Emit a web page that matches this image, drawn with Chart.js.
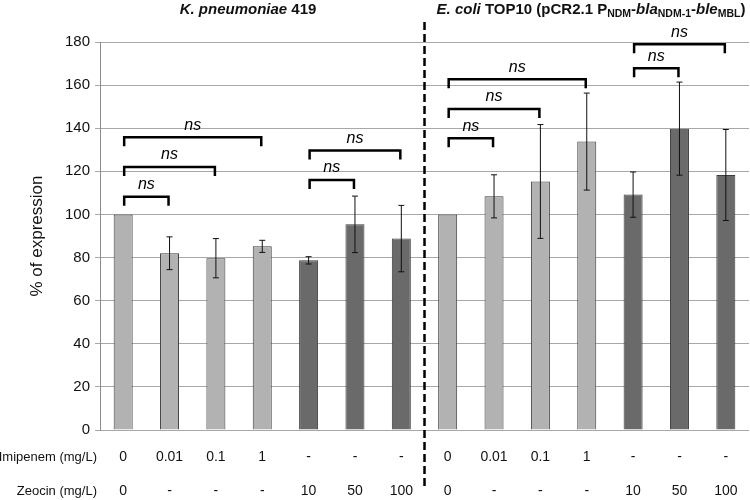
<!DOCTYPE html>
<html>
<head>
<meta charset="utf-8">
<script src="https://cdn.jsdelivr.net/npm/chart.js@4.4.0/dist/chart.umd.min.js"></script>
<style>
  body { margin: 0; background: #fff; }
  #wrap { width: 750px; height: 500px; }
</style>
</head>
<body>
<div id="wrap"><canvas id="myChart" width="750" height="500"></canvas></div>
<script>
// data
const imipenem = ['0', '0.01', '0.1', '1', '-', '-', '-', '0', '0.01', '0.1', '1', '-', '-', '-'];
const zeocin = ['0', '-', '-', '-', '10', '50', '100', '0', '-', '-', '-', '10', '50', '100'];
const treatment = ['imi', 'imi', 'imi', 'imi', 'zeo', 'zeo', 'zeo', 'imi', 'imi', 'imi', 'imi', 'zeo', 'zeo', 'zeo'];
const expression = [100, 82, 79.7, 85.2, 78.7, 95.4, 88.8, 100, 108.4, 115.3, 133.8, 109.2, 139.8, 118.3];
const errorBar = [0, 7.6, 9.1, 2.8, 1.7, 13.1, 15.4, 0, 10, 26.4, 22.5, 10.5, 21.6, 21.1];
const yTicks = [0, 20, 40, 60, 80, 100, 120, 140, 160, 180];

// significance brackets (bar index from / to, height in % units)
const bracketFrom = [0, 0, 0, 4, 4, 7, 7, 7, 11, 11];
const bracketTo = [1, 2, 3, 5, 6, 8, 9, 10, 12, 13];
const bracketLevel = [108.2, 122, 135.8, 116, 129.7, 135.3, 148.9, 162.7, 167.8, 179];
const bracketLabel = ['ns', 'ns', 'ns', 'ns', 'ns', 'ns', 'ns', 'ns', 'ns', 'ns'];

const labels = imipenem.map((v, i) => v + ' / ' + zeocin[i]);
const FONT = '"Liberation Sans", Arial, sans-serif';

const extrasPlugin = {
    id: 'extras',
    afterDraw(chart) {
        const c = chart.ctx;
        const x = chart.scales.x;
        const y = chart.scales.y;
        c.save();

        // error bars
        c.strokeStyle = '#111';
        c.lineWidth = 1;
        expression.forEach((v, i) => {
            if (!errorBar[i]) return;
            const px = x.getPixelForValue(i);
            const top = y.getPixelForValue(v + errorBar[i]);
            const bot = y.getPixelForValue(v - errorBar[i]);
            c.beginPath();
            c.moveTo(px, top); c.lineTo(px, bot);
            c.moveTo(px - 3, top); c.lineTo(px + 3, top);
            c.moveTo(px - 3, bot); c.lineTo(px + 3, bot);
            c.stroke();
        });

        // brackets
        c.strokeStyle = '#000';
        c.lineWidth = 2.5;
        c.fillStyle = '#000';
        c.font = 'italic 16px ' + FONT;
        c.textAlign = 'center';
        c.textBaseline = 'middle';
        bracketFrom.forEach((f, k) => {
            const x1 = x.getPixelForValue(f) + 1;
            const x2 = x.getPixelForValue(bracketTo[k]) - 1;
            const py = y.getPixelForValue(bracketLevel[k]);
            c.beginPath();
            c.moveTo(x1, py + 9); c.lineTo(x1, py); c.lineTo(x2, py); c.lineTo(x2, py + 9);
            c.stroke();
            c.fillText(bracketLabel[k], (x1 + x2) / 2, py - 12);
        });

        // dashed separator between the two strains
        const sep = (x.getPixelForValue(6) + x.getPixelForValue(7)) / 2;
        c.setLineDash([8, 4]);
        c.lineWidth = 2.5;
        c.beginPath();
        c.moveTo(sep, 22); c.lineTo(sep, 488);
        c.stroke();
        c.setLineDash([]);

        // concentration rows under the axis
        c.font = '14px ' + FONT;
        c.fillStyle = '#111';
        imipenem.forEach((t, i) => c.fillText(t, x.getPixelForValue(i), 457));
        zeocin.forEach((t, i) => c.fillText(t, x.getPixelForValue(i), 491));
        c.font = '13px ' + FONT;
        c.textAlign = 'right';
        c.fillText('Imipenem (mg/L)', 97, 457);
        c.fillText('Zeocin (mg/L)', 97, 491);

        // strain titles
        c.textAlign = 'left';
        c.textBaseline = 'alphabetic';
        drawRuns(c, [
            ['bold italic 15px', 'K. pneumoniae', 0],
            ['bold 15px', ' 419', 0]
        ], 248, 14);
        drawRuns(c, [
            ['bold italic 15px', 'E. coli', 0],
            ['bold 15px', ' TOP10 (pCR2.1 P', 0],
            ['bold 10.5px', 'NDM', 3],
            ['bold 15px', '-', 0],
            ['bold italic 15px', 'bla', 0],
            ['bold 10.5px', 'NDM-1', 3],
            ['bold 15px', '-', 0],
            ['bold italic 15px', 'ble', 0],
            ['bold 10.5px', 'MBL', 3],
            ['bold 15px', ')', 0]
        ], 591, 14);
        c.restore();
    }
};

function drawRuns(c, runs, cx, base) {
    let total = 0;
    runs.forEach(r => { c.font = r[0] + ' ' + FONT; total += c.measureText(r[1]).width; });
    let px = cx - total / 2;
    runs.forEach(r => {
        c.font = r[0] + ' ' + FONT;
        c.fillText(r[1], px, base + r[2]);
        px += c.measureText(r[1]).width;
    });
}

const ctx = document.getElementById('myChart');
const chart = new Chart(ctx, {
    type: 'bar',
    data: {
        labels: labels,
        datasets: [{
            label: '% of expression',
            data: expression,
            backgroundColor: treatment.map(t => t === 'imi' ? '#b2b2b2' : '#6a6a6a'),
            borderColor: '#3c3c3c',
            borderWidth: 1,
            barPercentage: 0.41,
            categoryPercentage: 1
        }]
    },
    options: {
        responsive: false,
        animation: false,
        layout: { padding: { top: 42, bottom: 70, left: 0, right: 1 } },
        plugins: {
            legend: { display: false },
            tooltip: { enabled: false }
        },
        scales: {
            x: { display: false },
            y: {
                min: 0,
                max: 180,
                afterFit: s => { s.width = 100; },
                afterBuildTicks: s => { s.ticks = yTicks.map(v => ({ value: v })); },
                ticks: {
                    font: { family: FONT, size: 15 },
                    color: '#111',
                    padding: 5
                },
                grid: { color: '#a8a8a8', lineWidth: 1, tickLength: 5 },
                border: { color: '#8c8c8c' },
                title: {
                    display: true,
                    text: '% of expression',
                    font: { family: FONT, size: 17 },
                    color: '#111',
                    padding: { top: 27, bottom: 0 }
                }
            }
        }
    },
    plugins: [extrasPlugin]
});
</script>
</body>
</html>
